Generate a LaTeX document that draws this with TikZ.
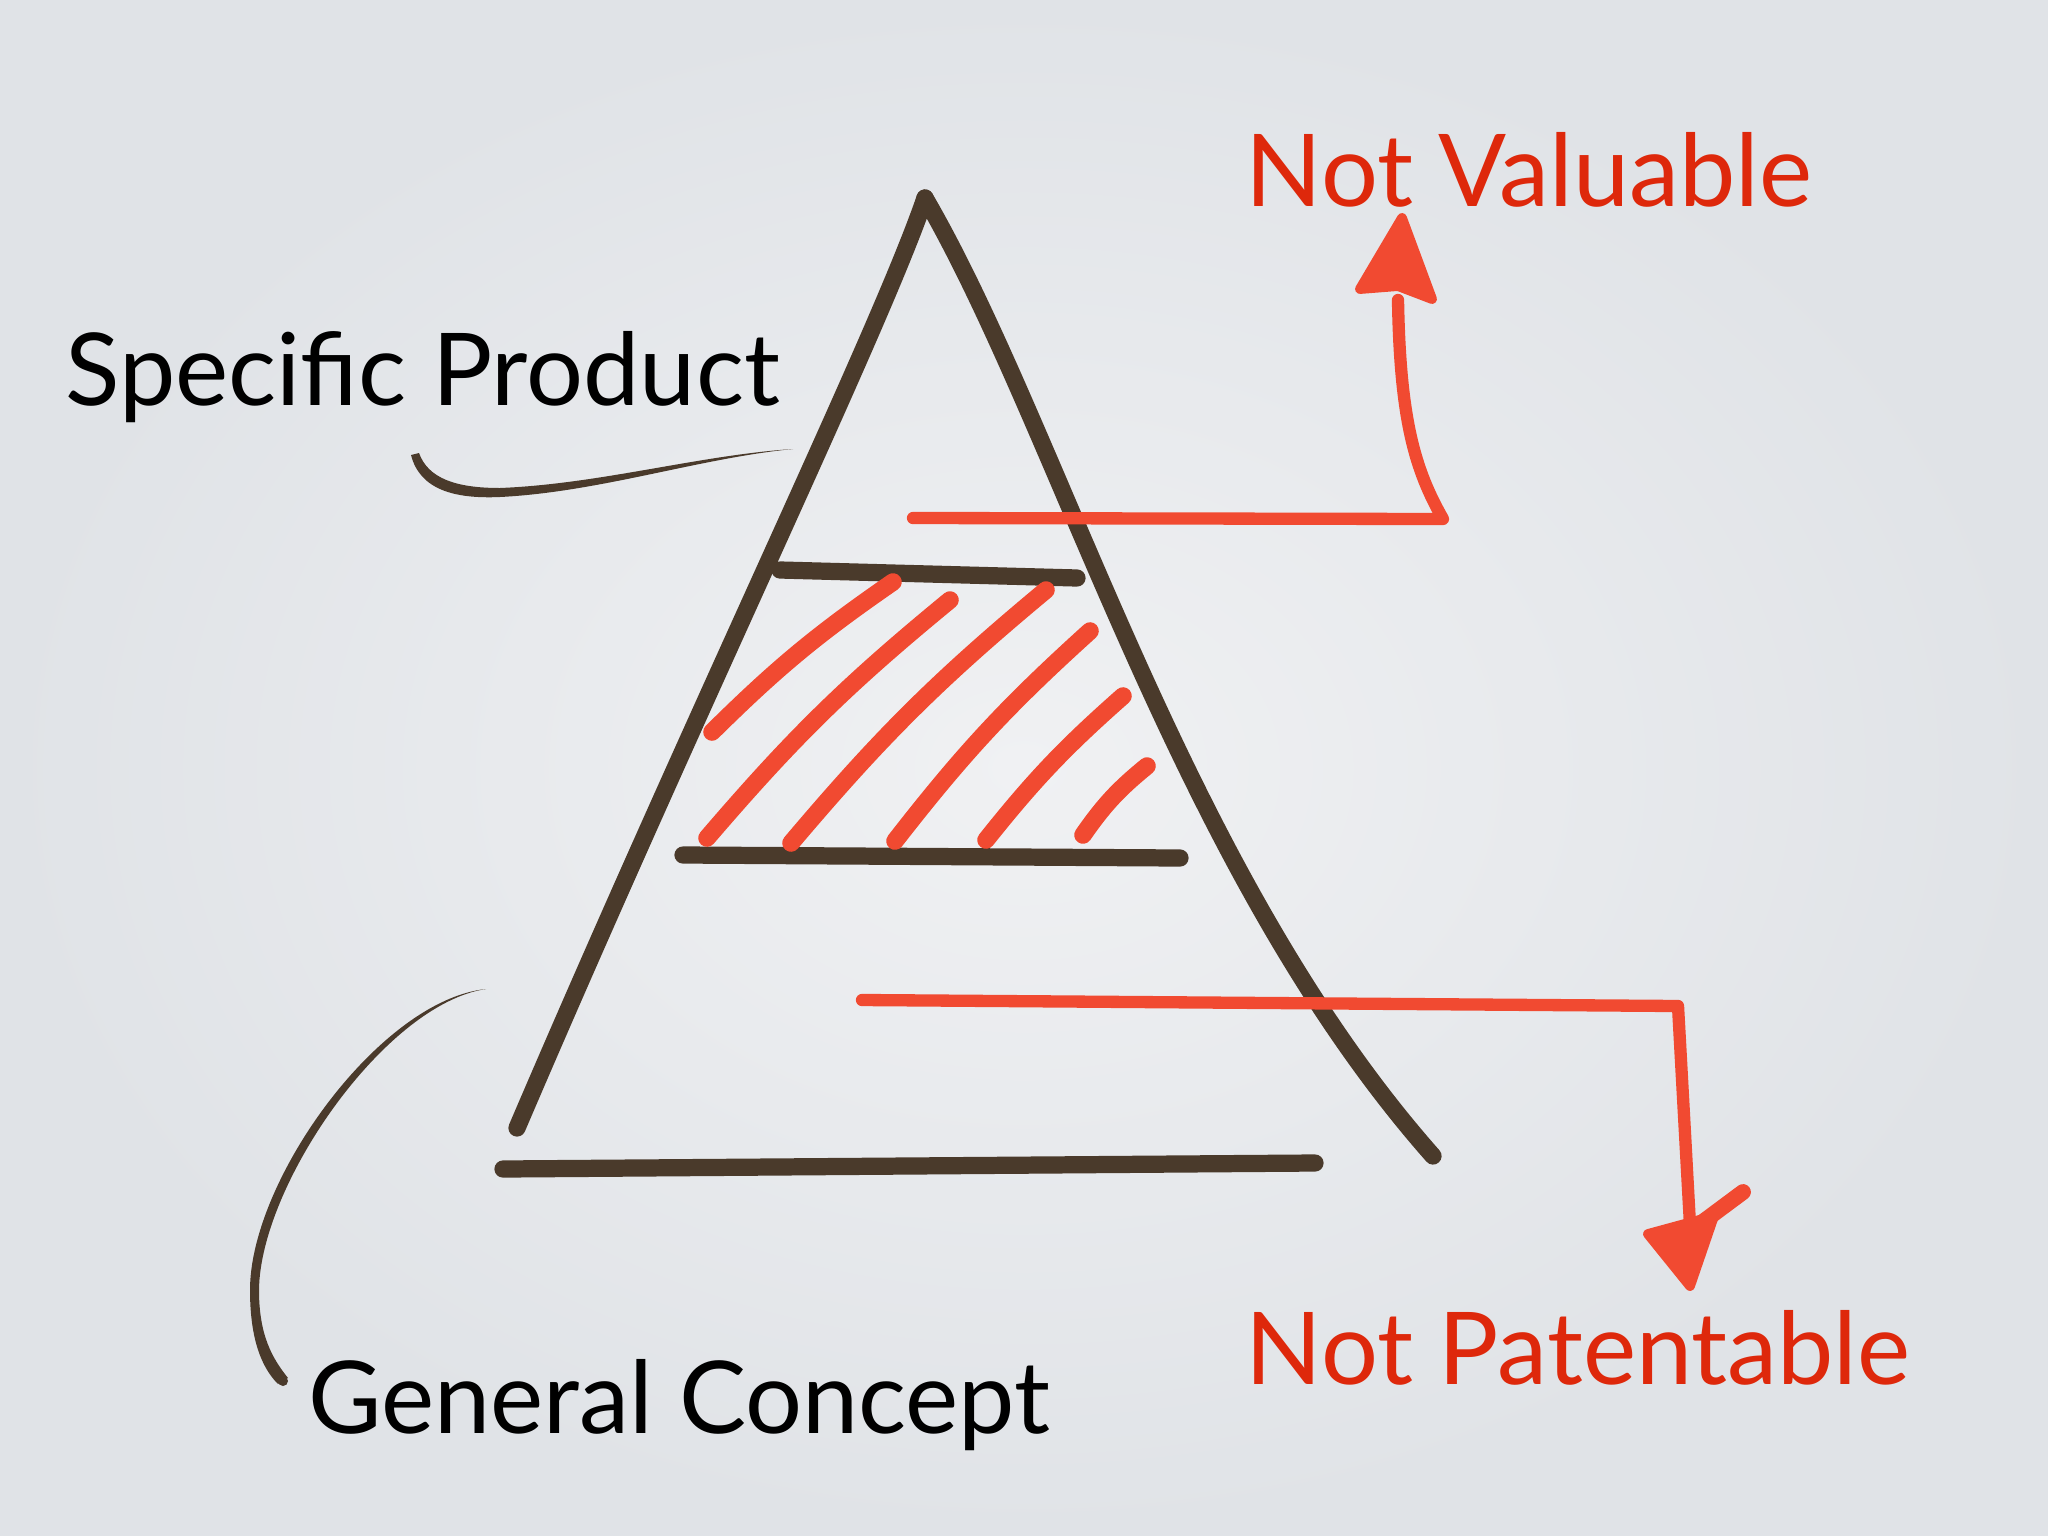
\documentclass[tikz,border=0pt]{standalone}
\usepackage{fontspec}
\setmainfont{Lato}
\usetikzlibrary{positioning}
\definecolor{pen}{HTML}{4A3A2B}
\definecolor{marker}{HTML}{F14A31}
\definecolor{slidered}{HTML}{DE280B}
\definecolor{bgin}{HTML}{F0F1F3}
\definecolor{bgout}{HTML}{E0E3E7}

\begin{document}
\begin{tikzpicture}[x=0.01cm,y=-0.01cm,line cap=round,line join=round]
		\tikzstyle{every node}+=[inner sep=0pt]
		\tikzstyle{brown line}=[pen,line width=4.9pt]
		\tikzstyle{hatch}=[marker,line width=5pt]
		\tikzstyle{red line}=[marker,line width=3.5pt]
		\tikzstyle{slide text}=[font=\fontsize{28.6}{34}\selectfont,anchor=base west]
		\useasboundingbox (0,0) rectangle (2048,1536);
		\shade [inner color=bgin, outer color=bgout] (0,0) rectangle (2048,1536);
		% labels
		\node [slide text] (specific) at (65,405) {Specific Product};
		\node [slide text] (general) at (308,1433) {General Concept};
		\node [slide text, slidered] (valuable) at (1245,206) {Not Valuable};
		\node [slide text, slidered] (patentable) at (1245,1384) {Not Patentable};
		% pointer strokes
		\fill [pen] (793,449) .. controls (700,458) and (600,492) .. (500,497) .. controls (455,499) and (420,490) .. (411,455) -- (419,453) .. controls (428,478) and (455,488) .. (500,488) .. controls (600,484) and (700,455) .. (793,449) -- cycle;
		\fill [pen] (486,989) .. controls (380,1000) and (250,1180) .. (250,1290) .. controls (250,1340) and (262,1368) .. (278,1384) -- (288,1378) .. controls (272,1358) and (259,1335) .. (259,1290) .. controls (260,1185) and (385,1004) .. (486,989) -- cycle;
		\fill [pen] (283,1381) circle (5);
		% triangle
		\coordinate (apex) at (925,198);
		\draw [brown line] (517,1128) .. controls (700,700) and (880,330) .. (apex);
		\draw [brown line] (apex) .. controls (1060,430) and (1180,870) .. (1433,1156);
		\draw [brown line] (780,570) -- (1077,578);
		\draw [brown line] (683,855) -- (1180,858);
		\draw [brown line] (503,1169) -- (1315,1163);
		% hatching
		\draw [hatch] (712,732) to [bend left=5] (893,582);
		\draw [hatch] (707,838) to [bend left=5] (950,600);
		\draw [hatch] (791,843) to [bend left=5] (1046,590);
		\draw [hatch] (895,841) to [bend left=5] (1090,631);
		\draw [hatch] (986,840) to [bend left=5] (1123,696);
		\draw [hatch] (1083,835) to [bend left=8] (1147,766);
		% arrows
		\coordinate (up tip) at (1402,218);
		\coordinate (down tip) at (1690,1286);
		\draw [red line] (913,518) -- (1443,519) .. controls (1415,470) and (1400,420) .. (1398,300);
		\filldraw [marker, line width=2.8pt] (up tip) -- (1360,289) -- (1398,286) -- (1432,299) -- cycle;
		\draw [red line] (862,1000) -- (1678,1006) -- (1690,1225);
		\filldraw [marker, line width=2.8pt] (1648,1234) -- (down tip) -- (1714,1216) -- cycle;
		\draw [red line, line width=4.5pt] (1700,1224) -- (1743,1192);
\end{tikzpicture}
\end{document}
